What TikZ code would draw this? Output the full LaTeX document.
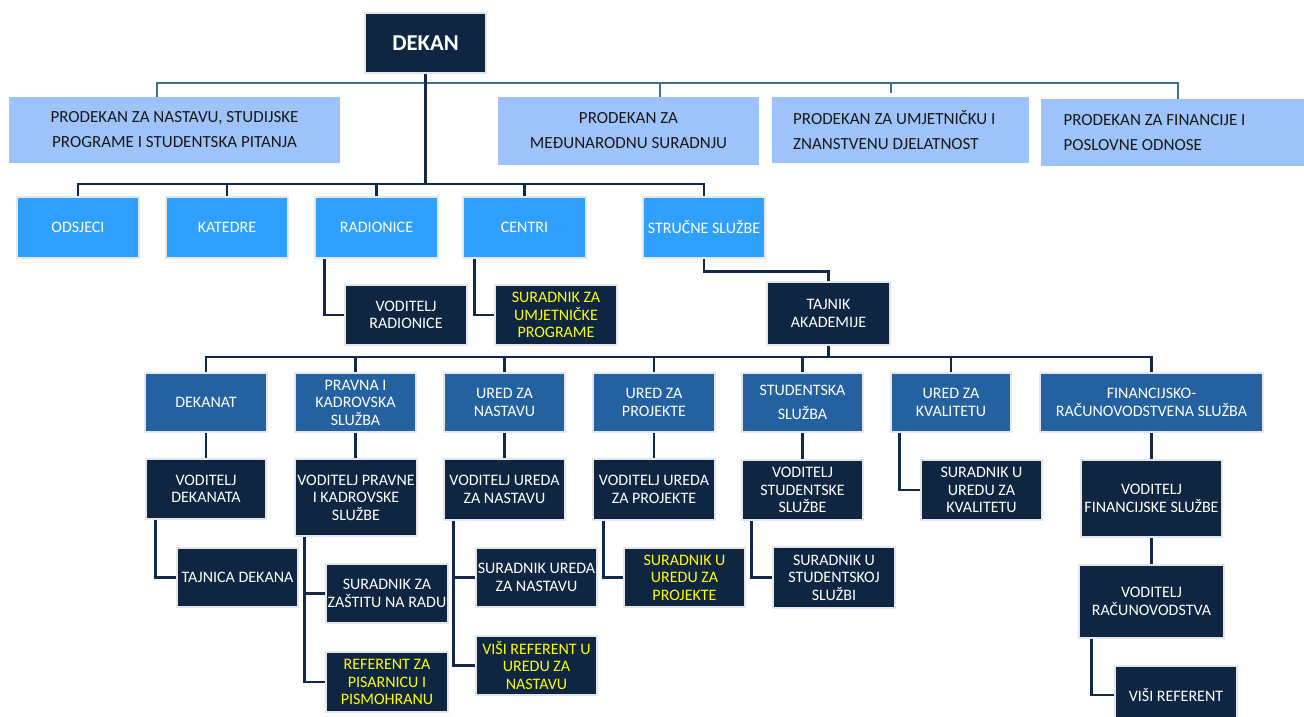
\documentclass[tikz,border=0pt]{standalone}
\usepackage{fontspec}
\setmainfont{Carlito}
\usetikzlibrary{calc}
\definecolor{navy}{HTML}{0F2642}
\definecolor{lightbl}{HTML}{9DC3FA}
\definecolor{brightbl}{HTML}{30A0FF}
\definecolor{midbl}{HTML}{2461A0}
\definecolor{steel}{HTML}{41708F}
\definecolor{linecol}{HTML}{13294A}
\definecolor{bordercol}{HTML}{E4E6E8}
\definecolor{yel}{HTML}{FFFF00}
\tikzset{
 sz/.style 2 args={minimum width={#1*0.75pt}, minimum height={#2*0.75pt}},
 base/.style={inner sep=0pt, align=center, font=\fontsize{12}{13.1}\selectfont, text=white, draw=bordercol, line width=1.8pt},
 dekanbox/.style={base, fill=navy, font=\fontsize{17}{20}\selectfont\bfseries},
 prodbox/.style={inner sep=0pt, fill=lightbl, text=black!90, font=\fontsize{12.75}{18.75}\selectfont, align=center},
 prodleft/.style={prodbox, align=flush left},
 orgbox/.style={base, fill=brightbl},
 unitbox/.style={base, fill=midbl},
 staffbox/.style={base, fill=navy},
 yelbox/.style={staffbox, text=yel},
 conn/.style={draw=linecol, line width=2.2pt},
 thinconn/.style={draw=steel, line width=1.3pt},
}
\begin{document}
\begin{tikzpicture}[x=0.75pt,y=-0.75pt]
\useasboundingbox (0,0) rectangle (1304,717);
% top
\node[dekanbox, sz={121}{60}] (dekan) at (425.5,43) {DEKAN};
\node[prodbox, sz={331}{66}] (pd1) at (174.5,130) {PRODEKAN ZA NASTAVU, STUDIJSKE\\PROGRAME I STUDENTSKA PITANJA};
\node[prodbox, sz={261}{68}] (pd2) at (628.5,131) {PRODEKAN ZA\\MEĐUNARODNU SURADNJU};
\node[prodleft, text width=161pt, sz={257}{66}] (pd3) at (900.5,130) {PRODEKAN ZA UMJETNIČKU I\\ZNANSTVENU DJELATNOST};
\node[prodleft, text width=168pt, sz={269}{67}] (pd4) at (1175.5,132.5) {PRODEKAN ZA FINANCIJE I\\POSLOVNE ODNOSE};
% row 2
\node[orgbox, sz={122}{61}] (odsjeci) at (78,227.5) {ODSJECI};
\node[orgbox, sz={122}{61}] (katedre) at (227,227.5) {KATEDRE};
\node[orgbox, sz={123}{61}] (radionice) at (376.5,227.5) {RADIONICE};
\node[orgbox, sz={123}{61}] (centri) at (524.5,227.5) {CENTRI};
\node[orgbox, sz={122}{61}] (struc) at (704,227.5) {STRUČNE SLUŽBE};
\node[staffbox, sz={122}{60}] (vodrad) at (406,315) {VODITELJ\\RADIONICE};
\node[yelbox, sz={122}{60}] (surumj) at (556,315) {SURADNIK ZA\\UMJETNIČKE\\PROGRAME};
\node[staffbox, sz={123}{63}] (tajnik) at (828.5,313.5) {TAJNIK\\AKADEMIJE};
% row 3
\node[unitbox, sz={122}{59}] (dekanat) at (206,402.5) {DEKANAT};
\node[unitbox, sz={121}{59}] (pravna) at (355.5,402.5) {PRAVNA I\\KADROVSKA\\SLUŽBA};
\node[unitbox, sz={121}{59}] (urednast) at (504.5,402.5) {URED ZA\\NASTAVU};
\node[unitbox, sz={122}{59}] (uredproj) at (654,402.5) {URED ZA\\PROJEKTE};
\node[unitbox, sz={121}{59}] (stud) at (802.5,402.5) {STUDENTSKA\\[5pt]SLUŽBA};
\node[unitbox, sz={120}{59}] (kval) at (951,402.5) {URED ZA\\KVALITETU};
\node[unitbox, sz={223}{59}] (fin) at (1151.5,402.5) {FINANCIJSKO-\\RAČUNOVODSTVENA SLUŽBA};
% row 4
\node[staffbox, sz={120}{60}] (voddek) at (206,489) {VODITELJ\\DEKANATA};
\node[staffbox, sz={122}{77}] (vodprav) at (356,497.5) {VODITELJ PRAVNE\\I KADROVSKE\\SLUŽBE};
\node[staffbox, sz={121}{61}] (vodnast) at (504.5,489.5) {VODITELJ UREDA\\ZA NASTAVU};
\node[staffbox, sz={122}{61}] (vodproj) at (654,489.5) {VODITELJ UREDA\\ZA PROJEKTE};
\node[staffbox, sz={121}{60}] (vodstud) at (802.5,490) {VODITELJ\\STUDENTSKE\\SLUŽBE};
\node[staffbox, sz={121}{60}] (surkval) at (981.5,490) {SURADNIK U\\UREDU ZA\\KVALITETU};
\node[staffbox, sz={141}{77}] (vodfin) at (1151.5,498.5) {VODITELJ\\FINANCIJSKE SLUŽBE};
% row 5
\node[staffbox, sz={121}{59}] (tajnica) at (237.5,577.5) {TAJNICA DEKANA};
\node[staffbox, sz={122}{59}] (zastita) at (387,593.5) {SURADNIK ZA\\ZAŠTITU NA RADU};
\node[yelbox, sz={122}{60}] (referent) at (387,682) {REFERENT ZA\\PISARNICU I\\PISMOHRANU};
\node[staffbox, sz={121}{59}] (surnast) at (536.5,577.5) {SURADNIK UREDA\\ZA NASTAVU};
\node[yelbox, sz={121}{59}] (visinast) at (536.5,665.5) {VIŠI REFERENT U\\UREDU ZA\\NASTAVU};
\node[yelbox, sz={121}{59}] (surproj) at (684.5,577.5) {SURADNIK U\\UREDU ZA\\PROJEKTE};
\node[staffbox, sz={122}{61}] (surstud) at (834,577.5) {SURADNIK U\\STUDENTSKOJ\\SLUŽBI};
\node[staffbox, sz={145}{73}] (vodrac) at (1151.5,601.5) {VODITELJ\\RAČUNOVODSTVA};
\node[staffbox, sz={122}{58}] (visiref) at (1176,695) {VIŠI REFERENT};
% prodekan bus
\coordinate (pbus) at (0,83);
\coordinate (t1) at ($(pd1.north west)+(148,0)$);
\coordinate (t2) at ($(pd2.north west)+(162,0)$);
\coordinate (t3) at ($(pd3.north west)+(119,0)$);
\coordinate (t4) at ($(pd4.north west)+(137,0)$);
\draw[thinconn] (t1) -- (t1 |- pbus) -| (t4);
\draw[thinconn] (t2) -- (t2 |- pbus);
\draw[thinconn] (t3 |- pbus) -- ++(0,10);
% row 2 bus
\coordinate (bus2) at (0,184);
\draw[conn] (dekan.south) -- (dekan.south |- bus2);
\draw[conn] (odsjeci.north) |- (bus2 -| struc.north) -- (struc.north);
\foreach \n in {katedre,radionice,centri} \draw[conn] (\n.north) -- (\n.north |- bus2);
\draw[conn] ($(radionice.south west)+(11,0)$) |- (vodrad.west);
\draw[conn] ($(centri.south west)+(13,0)$) |- (surumj.west);
\draw[conn] (struc.south) -- ++(0,12) -| (tajnik.north);
% row 3 bus
\coordinate (bus3) at (0,357);
\draw[conn] (tajnik.south) -- (tajnik.south |- bus3);
\draw[conn] (dekanat.north) |- (bus3 -| fin.north) -- (fin.north);
\foreach \n in {pravna,urednast,uredproj,stud,kval} \draw[conn] (\n.north) -- (\n.north |- bus3);
% row 4
\foreach \a/\b in {dekanat/voddek, pravna/vodprav, urednast/vodnast, uredproj/vodproj, stud/vodstud, fin/vodfin, vodfin/vodrac}
  \draw[conn] (\a.south) -- (\a.south |- \b.north);
\draw[conn] ($(kval.south west)+(10,0)$) |- (surkval.west);
\draw[conn] ($(voddek.south west)+(11,0)$) |- (tajnica.west);
\draw[conn] ($(vodprav.south west)+(11,0)$) |- (zastita.west);
\draw[conn] ($(vodprav.south west)+(11,0)$) |- (referent.west);
\draw[conn] ($(vodnast.south west)+(11,0)$) |- (surnast.west);
\draw[conn] ($(vodnast.south west)+(11,0)$) |- (visinast.west);
\draw[conn] ($(vodproj.south west)+(12,0)$) |- (surproj.west);
\draw[conn] ($(vodstud.south west)+(11,0)$) |- (surstud.west);
\draw[conn] ($(vodrac.south west)+(14,0)$) |- (visiref.west);
\end{tikzpicture}
\end{document}
